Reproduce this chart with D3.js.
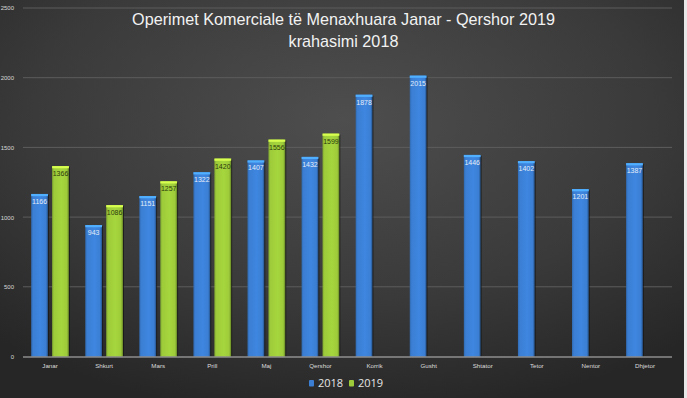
<!DOCTYPE html>
<html>
<head>
<meta charset="utf-8">
<script src="https://cdn.jsdelivr.net/npm/d3@7"></script>
<style>
 html,body{margin:0;padding:0;background:#333;}
 svg{display:block;}
</style>
</head>
<body>
<div id="chart"></div>
<script>
(function(){
 "use strict";
 var months=["Janar","Shkurt","Mars","Prill","Maj","Qershor","Korrik","Gusht","Shtator","Tetor","Nentor","Dhjetor"];
 var series=["2018","2019"];
 var values2018=[1166,943,1151,1322,1407,1432,1878,2015,1446,1402,1201,1387];
 var values2019=[1366,1086,1257,1420,1556,1599];
 var yTicks=[0,500,1000,1500,2000,2500];
 var titleLines=["Operimet Komerciale të Menaxhuara Janar - Qershor 2019","krahasimi 2018"];
 var colors={"2018":"#3b7fd4","2019":"#9dcb3a"};
 var labelColors={"2018":"#e3ecf8","2019":"#2c3a0c"};

 var W=687,H=398;
 var m={l:23,r:15,t:8,b:41.5};
 var svg=d3.select("#chart").append("svg").attr("width",W).attr("height",H);
 var defs=svg.append("defs");

 var bg=defs.append("radialGradient").attr("id","bg").attr("cx","0.5").attr("cy","0.3").attr("r","0.75");
 bg.append("stop").attr("offset","0").attr("stop-color","#4e4e4e");
 bg.append("stop").attr("offset","0.6").attr("stop-color","#3a3a3a");
 bg.append("stop").attr("offset","1").attr("stop-color","#262626");
 svg.append("rect").attr("width",W).attr("height",H).attr("fill","url(#bg)");
 svg.append("rect").attr("x",684).attr("width",3).attr("height",H).attr("fill","#e8e8e8");

 series.forEach(function(s){
  var c=d3.color(colors[s]);
  var g=defs.append("linearGradient").attr("id","bar"+s).attr("x1","0").attr("x2","1");
  g.append("stop").attr("offset","0").attr("stop-color",c.darker(0.5));
  g.append("stop").attr("offset","0.12").attr("stop-color",c);
  g.append("stop").attr("offset","0.55").attr("stop-color",c.brighter(0.15));
  g.append("stop").attr("offset","0.88").attr("stop-color",c);
  g.append("stop").attr("offset","1").attr("stop-color",c.darker(1.2));
 });

 var x=d3.scaleBand().domain(months).range([m.l,W-m.r]);
 var xs=d3.scaleBand().domain(series).range([0,x.bandwidth()]).paddingInner(0.2).paddingOuter(0.39);
 var y=d3.scaleLinear().domain([0,2500]).range([H-m.b,m.t]);

 var grid=svg.append("g");
 grid.selectAll("line").data(yTicks.filter(function(d){return d>0;})).join("line")
  .attr("x1",m.l).attr("x2",W-m.r).attr("y1",function(d){return y(d);}).attr("y2",function(d){return y(d);})
  .attr("stroke","#5d5d5d").attr("stroke-width",1);

 var yAxis=svg.append("g").attr("transform","translate("+(m.l-6)+",0)")
  .call(d3.axisLeft(y).tickValues(yTicks).tickSize(0).tickFormat(d3.format("d")));
 yAxis.select(".domain").remove();
 yAxis.selectAll("text").attr("fill","#d8d8d8").attr("font-size","6px").attr("font-family","Liberation Sans, Arial, sans-serif").attr("dx","0");

 var rows=[];
 months.forEach(function(mo,i){
  rows.push({m:mo,s:"2018",v:values2018[i]});
  if(i<values2019.length) rows.push({m:mo,s:"2019",v:values2019[i]});
 });

 var bars=svg.append("g").selectAll("g").data(rows).join("g")
  .attr("transform",function(d){return "translate("+(x(d.m)+xs(d.s))+",0)";});
 bars.append("rect").attr("x",1).attr("y",function(d){return y(d.v)+1;})
  .attr("width",xs.bandwidth()).attr("height",function(d){return y(0)-y(d.v)-1;}).attr("fill","#141414").attr("opacity",0.7);
 bars.append("rect").attr("y",function(d){return y(d.v);})
  .attr("width",xs.bandwidth()).attr("height",function(d){return y(0)-y(d.v);})
  .attr("fill",function(d){return "url(#bar"+d.s+")";});
 bars.append("rect").attr("y",function(d){return y(d.v);})
  .attr("width",xs.bandwidth()).attr("height",2.2)
  .attr("fill",function(d){return d3.color(colors[d.s]).brighter(0.9);});
 bars.append("text").attr("x",xs.bandwidth()/2).attr("y",function(d){return y(d.v)+10;})
  .attr("text-anchor","middle").attr("font-size","7px").attr("font-family","Liberation Sans Narrow, Liberation Sans, Arial, sans-serif")
  .attr("fill",function(d){return labelColors[d.s];}).text(function(d){return d.v;});

 svg.append("line").attr("x1",m.l).attr("x2",W-m.r).attr("y1",y(0)+0.5).attr("y2",y(0)+0.5)
  .attr("stroke","#bdbdbd").attr("stroke-width",1.2);

 var xAxis=svg.append("g").attr("transform","translate(0,"+(y(0)+4)+")")
  .call(d3.axisBottom(x).tickSize(0));
 xAxis.select(".domain").remove();
 xAxis.selectAll("text").attr("fill","#dcdcdc").attr("font-size","6.2px").attr("font-family","Liberation Sans, Arial, sans-serif");

 svg.append("g").selectAll("text").data(titleLines).join("text")
  .attr("x",W/2).attr("y",function(d,i){return 25+i*22;}).attr("text-anchor","middle")
  .attr("font-family","Liberation Sans Narrow, Liberation Sans, sans-serif").attr("font-size","16.2px").attr("fill","#f2f2f2")
  .text(function(d){return d;});

 var legX=[309,349];
 var leg=svg.append("g").selectAll("g").data(series).join("g")
  .attr("transform",function(d,i){return "translate("+legX[i]+",380)";});
 leg.append("rect").attr("width",5).attr("height",6.5).attr("rx",1).attr("fill",function(d){return colors[d];});
 leg.append("text").attr("x",9).attr("y",7).attr("font-size","11px").attr("font-family","Open Sans, Noto Sans, sans-serif")
  .attr("fill","#e6e6e6").text(function(d){return d;});
}());
</script>
</body>
</html>
